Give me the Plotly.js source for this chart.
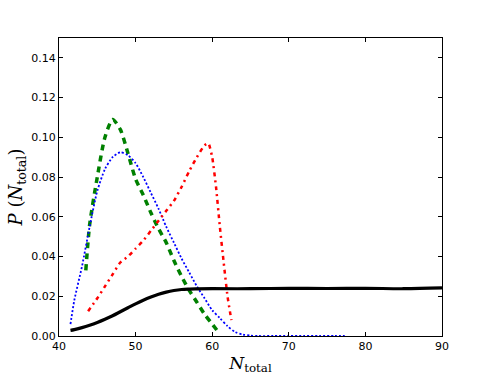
<!DOCTYPE html>
<html>
<head>
<meta charset="utf-8">
<script src="https://cdn.plot.ly/plotly-3.0.1.min.js"></script>
<style>
  html, body { margin: 0; padding: 0; background: #fff; }
  #chart { width: 491px; height: 382px; }
</style>
</head>
<body>
<div id="chart"></div>
<script>
// values
let greenX = [43.5, 44, 45, 46, 47, 48, 49, 50, 51, 52, 53, 54, 55, 56, 57, 58, 59, 60, 60.6];
let greenY = [0.033, 0.056, 0.080, 0.100, 0.109, 0.104, 0.092, 0.079, 0.071, 0.062, 0.054,
              0.047, 0.038, 0.030, 0.023, 0.017, 0.011, 0.006, 0.003];

let blueX = [41.5, 42, 43, 44, 45, 46, 47, 48, 49, 50, 51, 52, 53, 54, 55, 56, 57, 58, 59, 60,
             61, 62, 63, 64, 65, 66, 68, 70, 72, 74, 76, 77.3];
let blueY = [0.006, 0.018, 0.035, 0.055, 0.073, 0.084, 0.090, 0.0925, 0.091, 0.087, 0.080,
             0.072, 0.064, 0.055, 0.047, 0.039, 0.032, 0.025, 0.019, 0.013, 0.009, 0.005,
             0.002, 0.0007, 0.0002, 0, 0, 0, 0, 0, 0, 0];

let redX = [43.8, 45, 46, 47, 48, 49, 50, 51, 52, 53, 54, 55, 56, 57, 58, 59, 59.5, 60, 60.5,
            61, 61.5, 62, 62.5];
let redY = [0.0125, 0.019, 0.025, 0.031, 0.037, 0.040, 0.044, 0.048, 0.053, 0.058, 0.063,
            0.068, 0.075, 0.083, 0.090, 0.096, 0.097, 0.090, 0.075, 0.055, 0.037, 0.020, 0.008];

let blackX = [41.5, 42, 43, 44, 45, 46, 47, 48, 49, 50, 51, 52, 53, 54, 55, 56, 57, 58, 60,
              65, 70, 75, 80, 85, 90];
let blackY = [0.0028, 0.0032, 0.0042, 0.0054, 0.0068, 0.0084, 0.0102, 0.0122, 0.0142, 0.0162,
              0.0180, 0.0196, 0.0210, 0.0221, 0.0229, 0.0234, 0.0236, 0.0237, 0.0238, 0.0238,
              0.0240, 0.0239, 0.0240, 0.0238, 0.0242];

let tickFont = {family: "DejaVu Sans", size: 11, color: "#000"};
let serif = "DejaVu Serif";

let traces = [
  {x: greenX, y: greenY, mode: "lines",
   line: {color: "#008000", width: 3.5, dash: "6px,5px", shape: "spline", smoothing: 0.7}},
  {x: blueX, y: blueY, mode: "lines",
   line: {color: "#0000ff", width: 1.8, dash: "2px,2px", shape: "spline", smoothing: 0.7}},
  {x: redX, y: redY, mode: "lines",
   line: {color: "#ff0000", width: 2.5, dash: "4px,4px,2px,4px", shape: "spline", smoothing: 0.5}},
  {x: blackX, y: blackY, mode: "lines",
   line: {color: "#000000", width: 3.2, shape: "spline"}}
];

let layout = {
  width: 491,
  height: 382,
  showlegend: false,
  margin: {l: 59, r: 49, t: 38, b: 46},
  plot_bgcolor: "#fff",
  paper_bgcolor: "#fff",
  xaxis: {
    range: [40, 90],
    dtick: 10,
    tick0: 40,
    ticks: "inside",
    ticklen: 4,
    tickcolor: "#000",
    showline: true,
    linecolor: "#000",
    linewidth: 1,
    mirror: "ticks",
    showgrid: false,
    zeroline: false,
    tickfont: tickFont,
    title: {text: "<i>N</i><sub>total</sub>", font: {family: serif, size: 17, color: "#000"}, standoff: 4}
  },
  yaxis: {
    range: [0, 0.15],
    dtick: 0.02,
    tick0: 0,
    tickformat: ".2f",
    ticks: "inside",
    ticklen: 4,
    tickcolor: "#000",
    showline: true,
    linecolor: "#000",
    linewidth: 1,
    mirror: "ticks",
    showgrid: false,
    zeroline: false,
    tickfont: tickFont,
    title: {text: "<i>P</i> (<i>N</i><sub>total</sub>)", font: {family: serif, size: 18, color: "#000"}, standoff: 3}
  }
};

Plotly.newPlot("chart", traces, layout, {staticPlot: true});
</script>
</body>
</html>
